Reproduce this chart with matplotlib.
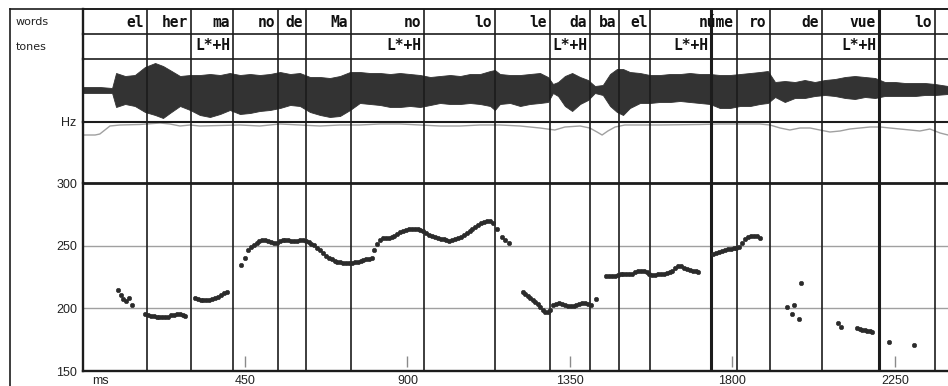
import matplotlib
matplotlib.use("Agg")
import matplotlib.pyplot as plt
from matplotlib.lines import Line2D

# ---------------- data ----------------
T_MAX = 2397  # ms shown in the panel

word_labels = ["el", "her", "ma", "no", "de", "Ma", "no", "lo", "le", "da", "ba",
               "el", "núme", "ro", "de", "vue", "lo"]
word_ends_ms = [179, 300, 417, 541, 619, 744, 946, 1142, 1295, 1405, 1485,
                1573, 1812, 1903, 2047, 2205, 2360]

tone_labels = ["L*+H", "L*+H", "L*+H", "L*+H", "L*+H"]
tone_ends_ms = [417, 946, 1405, 1742, 2205]
thick_bounds_ms = [1742, 2205]

# waveform envelope (amplitude, arbitrary units)
wave_ms = [0, 48, 82, 93, 118, 145, 173, 201, 223, 242,
           270, 298, 325, 353, 381, 408, 436, 464, 491, 519,
           547, 575, 602, 630, 658, 685, 713, 741, 768, 796,
           824, 852, 879, 907, 935, 963, 990, 1018, 1046, 1073,
           1101, 1129, 1142, 1156, 1184, 1212, 1239, 1267, 1289, 1303,
           1317, 1336, 1356, 1378, 1400, 1419, 1441, 1461, 1480, 1497,
           1516, 1544, 1571, 1599, 1627, 1655, 1682, 1710, 1738, 1765,
           1793, 1821, 1849, 1876, 1898, 1918, 1945, 1973, 2000, 2028,
           2056, 2084, 2112, 2139, 2167, 2195, 2222, 2250, 2278, 2306,
           2333, 2361, 2397]
wave_upper = [3.5, 3.5, 2.5, 17.5, 14.5, 15.5, 23.5, 27.5, 24.5, 20.5,
              14.5, 15.5, 15.5, 16.5, 15.5, 17.5, 15.5, 16.5, 15.5, 16.5,
              18.5, 16.5, 17.5, 13.5, 13.5, 12.5, 14.5, 18.5, 18.5, 17.5,
              17.5, 16.5, 17.5, 16.5, 15.5, 13.5, 14.5, 15.5, 14.5, 16.5,
              16.5, 19.5, 20.5, 16.5, 15.5, 15.5, 16.5, 17.5, 13.5, 6.5,
              8.5, 14.5, 17.5, 13.5, 10.5, 4.5, 5.5, 16.5, 21.5, 21.5,
              18.5, 17.5, 15.5, 15.5, 16.5, 16.5, 17.5, 16.5, 16.5, 15.5,
              15.5, 16.5, 17.5, 18.5, 19.5, 8.5, 9.5, 8.5, 10.5, 8.5,
              10.5, 11.5, 13.5, 14.5, 13.5, 12.5, 8.5, 8.5, 7.5, 7.5,
              7.5, 6.5, 4.5]
wave_lower = [-2.5, -2.5, -2.5, -16.5, -13.5, -15.5, -21.5, -24.5, -27.5, -22.5,
              -15.5, -19.5, -24.5, -26.5, -23.5, -19.5, -23.5, -22.5, -20.5, -19.5,
              -17.5, -14.5, -15.5, -21.5, -24.5, -26.5, -25.5, -19.5, -12.5, -13.5,
              -14.5, -16.5, -16.5, -15.5, -16.5, -14.5, -12.5, -13.5, -13.5, -12.5,
              -13.5, -15.5, -19.5, -13.5, -12.5, -15.5, -13.5, -12.5, -11.5, -2.5,
              -5.5, -15.5, -20.5, -13.5, -9.5, -2.5, -4.5, -15.5, -21.5, -24.5,
              -17.5, -12.5, -12.5, -11.5, -11.5, -10.5, -11.5, -12.5, -13.5, -17.5,
              -17.5, -15.5, -15.5, -13.5, -12.5, -6.5, -11.5, -7.5, -7.5, -5.5,
              -4.5, -5.5, -7.5, -8.5, -6.5, -7.5, -5.5, -5.5, -5.5, -5.5,
              -4.5, -4.5, -3.5]

# grey contour in the "Hz" strip (depth below strip top)
contour_ms = [0, 35, 48, 62, 76, 104, 159, 215, 242, 270, 298, 325, 436, 491, 547,
              602, 658, 713, 768, 824, 879, 935, 990, 1046, 1101, 1156, 1212, 1267,
              1308, 1336, 1378, 1405, 1425, 1439, 1455, 1475, 1502, 1599, 1710, 1765,
              1876, 1904, 1932, 1959, 1987, 2015, 2042, 2070, 2098, 2125, 2153, 2181,
              2209, 2236, 2264, 2292, 2319, 2347, 2375, 2397]
contour_depth = [13, 13, 12, 8, 4, 3, 2.5, 1, 2, 4, 3, 4, 3, 4, 2,
                 3, 4, 3, 3, 2, 2, 3, 4, 4, 3, 3, 4, 6,
                 8, 5, 4, 6, 10, 13, 9, 5, 3, 3, 2.5, 2,
                 2, 3, 6, 8, 6, 6, 8, 10, 9, 7, 6, 5,
                 5, 6, 7, 8, 9, 7, 11, 13]

# F0 track (ms, Hz) by voiced stretch
seg1_ms = [99, 106, 111, 120, 130, 137]
seg1_hz = [214.4, 210.4, 207.8, 205.7, 208.3, 202.5]
seg2_ms = [173, 181, 189, 197, 205, 213, 221, 229, 237, 245, 253, 261, 269, 277, 285]
seg2_hz = [195.5, 194.5, 194, 193.8, 193.5, 193.5, 193, 193, 193.5, 194.5, 195, 195.5,
           195.5, 195, 194]
seg3_ms = [311, 319, 327, 335, 343, 351, 359, 367, 375, 383, 391, 399]
seg3_hz = [208, 207.5, 207, 206.5, 206.5, 207, 207.5, 208, 209, 210.5, 212, 213.5]
seg4_ms = [438, 449, 459, 466, 474, 482, 490, 498, 506, 514, 522, 530, 538, 546, 554,
           562, 570, 578, 586, 594, 602, 610, 618, 626, 634, 642, 650, 658, 666, 674,
           682, 690, 698, 706, 714, 722, 730, 738, 746, 754, 762, 770, 778, 786, 794, 801]
seg4_hz = [235, 240, 246.5, 249, 251, 252.5, 253.5, 254.5, 255, 254, 253, 252, 252.5,
           253.5, 254.5, 255, 254.5, 254, 253.8, 254.2, 254.8, 255, 254.2, 253, 251.8,
           250.5, 248.6, 247, 244.5, 242, 240.3, 239.3, 238.3, 237.3, 236.8, 236.5,
           236.3, 236.3, 236.5, 236.8, 237.5, 238, 238.8, 239.3, 239.8, 240.3]
seg5_ms = [807, 816, 824, 832, 840, 848, 856, 864, 872, 880, 888, 896, 904, 912, 920,
           928, 936, 944, 952, 960, 968, 976, 984, 992, 1000, 1008, 1016, 1024, 1032,
           1040, 1048, 1056, 1064, 1072, 1080, 1088, 1096, 1104, 1112, 1120, 1128, 1136,
           1147, 1161, 1170, 1182]
seg5_hz = [246.8, 251.2, 254.5, 256, 256.2, 256, 256.8, 257.8, 259.5, 261, 262, 263,
           263.4, 263.6, 263.6, 263.4, 262.8, 261.8, 260.2, 258.8, 257.8, 257, 256.3,
           255.8, 255.3, 254.6, 254, 254.5, 255.3, 256.2, 257.4, 258.6, 260.2, 261.6,
           263.2, 265, 266.5, 268, 269, 269.6, 269.5, 268.4, 263.6, 257.3, 254.7, 252.6]
seg6_ms = [1219, 1226, 1233, 1240, 1247, 1254, 1261, 1268, 1275, 1282, 1289, 1296, 1304,
           1312, 1320, 1328, 1336, 1344, 1352, 1360, 1368, 1376, 1384, 1392, 1400, 1408, 1422]
seg6_hz = [213, 211.5, 210, 208.3, 206.8, 205, 203.2, 201, 199, 197, 196.8, 199, 202.5,
           203.5, 204, 203.5, 202.8, 202.2, 201.8, 202, 202.8, 203.6, 204, 204, 203.6,
           203, 207.8]
seg7_ms = [1450, 1458, 1466, 1474, 1482, 1490, 1498, 1506, 1514, 1522, 1530, 1538, 1546,
           1554, 1562, 1570, 1578, 1586, 1594, 1602, 1610, 1618, 1626, 1634, 1642, 1650,
           1658, 1666, 1674, 1682, 1690, 1698, 1704]
seg7_hz = [225.7, 225.8, 225.8, 226.3, 226.8, 227.4, 227.6, 227.6, 227.6, 227.8, 228.8,
           229.6, 230, 230, 229, 227.8, 226.5, 226.5, 227.2, 227.6, 227.8, 228.2, 229,
           230, 232, 234, 233.6, 232.6, 231.5, 230.5, 229.6, 229.8, 229.4]
seg8_ms = [1747, 1755, 1763, 1771, 1779, 1787, 1795, 1803, 1811, 1819, 1827, 1835, 1843,
           1851, 1859, 1867, 1875]
seg8_hz = [243.4, 244.2, 245, 246, 246.8, 247.5, 247.8, 248, 248.3, 249.2, 252, 255.3,
           257, 257.8, 258, 257.6, 256]
seg9_ms = [1950, 1964, 1970, 1984, 1991]
seg9_hz = [201.2, 195.4, 203, 191.5, 220.2]
seg10_ms = [2093, 2100, 2145, 2152, 2159, 2166, 2173, 2180, 2187]
seg10_hz = [188, 185, 184.3, 183.6, 183, 182.6, 182.2, 181.8, 181.3]
seg11_ms = [2234, 2303]
seg11_hz = [173, 171]

x_ticks = [450, 900, 1350, 1800, 2250]
y_ticks = [150, 200, 250, 300]

# ---------------- drawing ----------------
W, H = 948, 386
fig = plt.figure(figsize=(W / 100, H / 100), dpi=100)
fig.patch.set_facecolor("white")

LINE = "#1c1c1c"
GREY = "#a0a0a0"
SANS = ["Liberation Sans", "DejaVu Sans"]
MONO = ["DejaVu Sans Mono"]


def prect(x0, y0, x1, y1):
    return [x0 / W, 1 - y1 / H, (x1 - x0) / W, (y1 - y0) / H]


ax_words = fig.add_axes(prect(82.5, 9, W, 34))
ax_tones = fig.add_axes(prect(82.5, 34, W, 59))
ax_wave = fig.add_axes(prect(82.5, 59, W, 122))
ax_hz = fig.add_axes(prect(82.5, 122, W, 183.3))
ax_f0 = fig.add_axes(prect(82.5, 183.3, W, 371))

top_widths = {ax_words: 1.2, ax_tones: 1.2, ax_wave: 1.2, ax_hz: 1.5, ax_f0: 2.0}
all_bounds = sorted(set(word_ends_ms + tone_ends_ms))

for ax in [ax_words, ax_tones, ax_wave, ax_hz, ax_f0]:
    ax.set_xlim(0, T_MAX)
    ax.patch.set_alpha(0)
    for s in ax.spines.values():
        s.set_visible(False)
    ax.spines["top"].set_visible(True)
    ax.spines["top"].set_linewidth(top_widths[ax])
    ax.spines["top"].set_color(LINE)
    ax.spines["left"].set_visible(True)
    ax.spines["left"].set_linewidth(1.7)
    ax.spines["left"].set_color(LINE)
    ax.tick_params(length=0)
    for b in all_bounds:
        ax.axvline(b, color=LINE, lw=2.2 if b in thick_bounds_ms else 1.2, zorder=3)

for ax in [ax_words, ax_tones, ax_wave, ax_hz]:
    ax.set_xticks([])
    ax.set_yticks([])

# words / tones text
for lab, end in zip(word_labels, word_ends_ms):
    ax_words.annotate(lab, xy=(end, 0.28), xycoords=("data", "axes fraction"),
                      xytext=(-2, 0), textcoords="offset points", ha="right",
                      va="baseline", fontsize=10.5, fontweight="bold",
                      family=MONO, color="#111111")
for lab, end in zip(tone_labels, tone_ends_ms):
    ax_tones.annotate(lab, xy=(end, 0.34), xycoords=("data", "axes fraction"),
                      xytext=(-2, 0), textcoords="offset points", ha="right",
                      va="baseline", fontsize=10.5, fontweight="bold",
                      family=MONO, color="#111111")
ax_words.set_ylim(0, 1)
ax_tones.set_ylim(0, 1)

# waveform
ax_wave.fill_between(wave_ms, wave_lower, wave_upper, color="#333333", lw=0.6, zorder=2)
ax_wave.set_ylim(-31.5, 31.5)

# Hz strip contour
ax_hz.plot(contour_ms, contour_depth, color=GREY, lw=1.0, zorder=2)
ax_hz.set_ylim(61.3, 0)
ax_hz.annotate("Hz", xy=(0, 1), xycoords="axes fraction", xytext=(-4.5, -1),
               textcoords="offset points", ha="right", va="center",
               fontsize=9, family=SANS, color="#222222")

# F0 panel
ax_f0.spines["bottom"].set_visible(True)
ax_f0.spines["bottom"].set_linewidth(1.7)
ax_f0.spines["bottom"].set_color(LINE)
ax_f0.set_ylim(150, 300)
ax_f0.set_yticks(y_ticks)
ax_f0.set_yticklabels([str(v) for v in y_ticks], family=SANS, fontsize=9, color="#222222")
ax_f0.set_xticks(x_ticks)
ax_f0.set_xticklabels([str(v) for v in x_ticks], family=SANS, fontsize=9, color="#222222")
ax_f0.tick_params(axis="y", length=0, pad=4)
ax_f0.tick_params(axis="x", length=0, pad=3)
for v in y_ticks[1:3]:
    ax_f0.axhline(v, color=GREY, lw=1.0, zorder=1)
ax_f0.vlines(x_ticks, 0.022, 0.08, transform=ax_f0.get_xaxis_transform(),
             color="#8a8a8a", lw=1.0, zorder=2)
ax_f0.annotate("ms", xy=(26, 0), xycoords=("data", "axes fraction"), xytext=(0, -3),
               textcoords="offset points", ha="left", va="top", fontsize=9,
               family=SANS, color="#222222")

for t, f in [(seg1_ms, seg1_hz), (seg2_ms, seg2_hz), (seg3_ms, seg3_hz),
             (seg4_ms, seg4_hz), (seg5_ms, seg5_hz), (seg6_ms, seg6_hz),
             (seg7_ms, seg7_hz), (seg8_ms, seg8_hz), (seg9_ms, seg9_hz),
             (seg10_ms, seg10_hz), (seg11_ms, seg11_hz)]:
    ax_f0.plot(t, f, ls="none", marker="o", ms=3.2, color="#2b2b2b",
               mec="#2b2b2b", mew=0.4, zorder=5)

# left label column and outer frame
fig.text(16 / W, 1 - 25 / H, "words", fontsize=8, family=["DejaVu Sans"],
         color="#222222", va="baseline", ha="left")
fig.text(16 / W, 1 - 50 / H, "tones", fontsize=8, family=["DejaVu Sans"],
         color="#222222", va="baseline", ha="left")
fig.add_artist(Line2D([9.5 / W, 9.5 / W], [0, 1 - 9 / H], color=LINE, lw=1.2,
                      transform=fig.transFigure))
fig.add_artist(Line2D([9.5 / W, 1], [1 - 9 / H, 1 - 9 / H], color=LINE, lw=1.2,
                      transform=fig.transFigure))

fig.savefig("out.png", dpi=100, facecolor="white")
